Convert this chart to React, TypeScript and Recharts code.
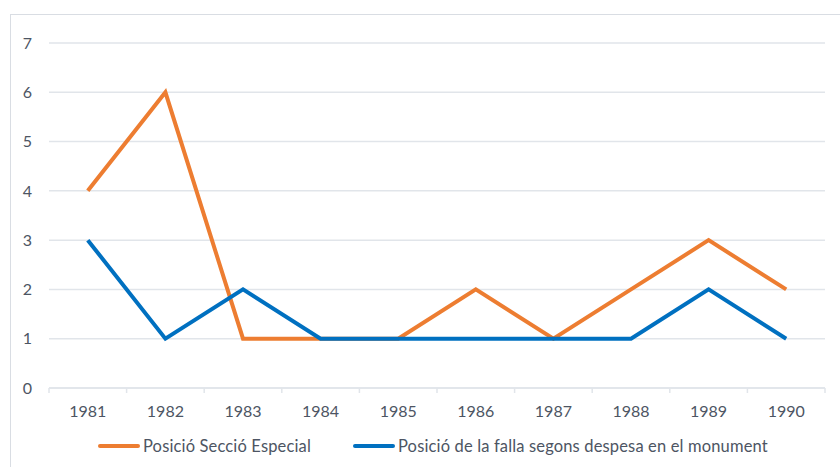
import React from 'react';
import { LineChart, Line, XAxis, YAxis, CartesianGrid, Legend } from 'recharts';

const years = ['1981', '1982', '1983', '1984', '1985', '1986', '1987', '1988', '1989', '1990'];
const seccioEspecial = [4, 6, 1, 1, 1, 2, 1, 2, 3, 2];
const despesaMonument = [3, 1, 2, 1, 1, 1, 1, 1, 2, 1];
const yTicks = [0, 1, 2, 3, 4, 5, 6, 7];
const seriesNames = [
  'Posició Secció Especial',
  'Posició de la falla segons despesa en el monument',
];

const W = 840;
const H = 467;
const margin = { top: 43, right: 15, left: 0, bottom: 25 };
const Y_AXIS_W = 49;
const halfBand = (W - margin.left - margin.right - Y_AXIS_W) / years.length / 2;

const FONT = 'Lato, "Open Sans", sans-serif';
const TEXT = '#4d5563';
const GRID = '#e1e5ea';
const ORANGE = '#ED7D31';
const BLUE = '#0070C0';

const data = years.map((y, i) => ({
  pos: i + 0.5,
  year: y,
  especial: seccioEspecial[i],
  despesa: despesaMonument[i],
}));
const xTicks = years.map((_, i) => i).concat([years.length]);

const XTick = (props: any) => {
  const { x, y, payload } = props;
  const label = years[payload.value];
  if (!label) return <g />;
  return (
    <text
      x={x + halfBand}
      y={y}
      dy="0.71em"
      textAnchor="middle"
      fill={TEXT}
      fontSize={16}
      fontFamily={FONT}
    >
      {label}
    </text>
  );
};

const renderLegend = (props: any) => (
  <div
    style={{
      display: 'flex',
      alignItems: 'center',
      height: 24,
      paddingLeft: 98,
      fontFamily: FONT,
      fontSize: 16.5,
      letterSpacing: 0.15,
      color: TEXT,
      boxSizing: 'border-box',
    }}
  >
    {(props.payload || []).map((p: any, i: number) => (
      <div key={i} style={{ display: 'flex', alignItems: 'center', marginRight: 42 }}>
        <div style={{ width: 42, height: 4, background: p.color, borderRadius: 2 }} />
        <span style={{ marginLeft: 3, whiteSpace: 'nowrap' }}>{p.value}</span>
      </div>
    ))}
  </div>
);

export default function App() {
  return (
    <div
      style={{
        position: 'absolute',
        left: 0,
        top: 0,
        width: W,
        height: H,
        overflow: 'hidden',
        background: '#fff',
      }}
    >
      <div
        style={{
          position: 'absolute',
          left: 10,
          top: 14,
          width: W + 20,
          height: H + 20,
          border: '1.5px solid #d9dde3',
          boxSizing: 'border-box',
        }}
      />
      <div style={{ position: 'absolute', left: 0, top: 0 }}>
        <LineChart width={W} height={H} data={data} margin={margin}>
          <CartesianGrid vertical={false} stroke={GRID} strokeWidth={1.5} />
          <XAxis
            dataKey="pos"
            type="number"
            domain={[0, years.length]}
            ticks={xTicks}
            interval={0}
            height={30}
            tick={<XTick />}
            tickSize={5}
            tickMargin={13}
            axisLine={{ stroke: GRID, strokeWidth: 1.5 }}
            tickLine={{ stroke: GRID, strokeWidth: 1.5 }}
          />
          <YAxis
            domain={[0, 7]}
            ticks={yTicks}
            interval={0}
            width={Y_AXIS_W}
            axisLine={false}
            tickLine={false}
            tickSize={0}
            tickMargin={17}
            tick={{ fill: TEXT, fontSize: 16, fontFamily: FONT }}
          />
          <Legend
            content={renderLegend}
            wrapperStyle={{ position: 'absolute', top: 434, left: 0, width: W }}
          />
          <Line
            type="linear"
            dataKey="especial"
            name={seriesNames[0]}
            stroke={ORANGE}
            strokeWidth={4}
            dot={false}
            activeDot={false}
            isAnimationActive={false}
          />
          <Line
            type="linear"
            dataKey="despesa"
            name={seriesNames[1]}
            stroke={BLUE}
            strokeWidth={4}
            dot={false}
            activeDot={false}
            isAnimationActive={false}
          />
        </LineChart>
      </div>
    </div>
  );
}
